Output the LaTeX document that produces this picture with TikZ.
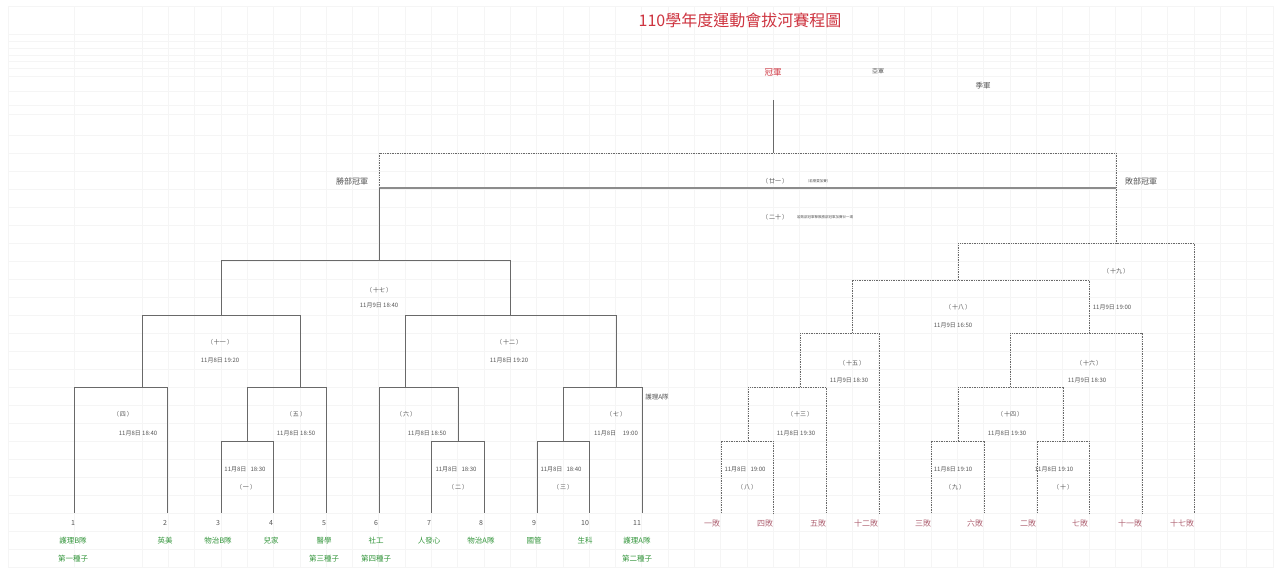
\documentclass[tikz,border=0pt]{standalone}
\usepackage{fontspec}
\setmainfont{Noto Sans CJK TC}
\usepackage{tikz}

\definecolor{titlered}{RGB}{206,52,64}
\definecolor{teamgreen}{RGB}{52,150,60}
\definecolor{losered}{RGB}{176,100,116}
\definecolor{linegray}{RGB}{105,105,105}
\definecolor{textgray}{RGB}{85,85,85}

\begin{document}
\begin{tikzpicture}[x=1pt,y=-1pt,
    gridline/.style={draw=black!4, line width=0.5pt},
    win/.style={draw=linegray, line width=0.8pt},
    lose/.style={draw=linegray, line width=0.8pt, dash pattern=on 1pt off 0.7pt},
    lab/.style={text=textgray, font=\fontsize{6}{7}\selectfont, inner sep=0pt},
    tiny/.style={text=textgray, font=\fontsize{3.5}{4}\selectfont, inner sep=0pt},
    num/.style={text=textgray, font=\fontsize{7}{8}\selectfont, inner sep=0pt},
    team/.style={text=teamgreen, font=\fontsize{7.5}{9}\selectfont, inner sep=0pt},
    lost/.style={text=losered, font=\fontsize{8}{9}\selectfont, inner sep=0pt}]
    \useasboundingbox (0,0) rectangle (1285,570);
    \fill[white] (0,0) rectangle (1285,570);
    % spreadsheet grid
    \foreach \gx in {8,74} \draw[gridline] (\gx,6) -- (\gx,568);
    \foreach \k in {0,...,43} \draw[gridline] ({142+26.3*\k},6) -- ({142+26.3*\k},568);
    \foreach \gy in {6,34,41,48,55,61,68,76,91,105,114,135} \draw[gridline] (8,\gy) -- (1273,\gy);
    \foreach \k in {0,...,23} \draw[gridline] (8,{153+18*\k}) -- (1273,{153+18*\k});

    % title and places
    \node[text=titlered, font=\fontsize{16}{18}\selectfont, inner sep=0pt] (title) at (740,20) {110學年度運動會拔河賽程圖};
    \node[text=titlered, font=\fontsize{8.5}{9}\selectfont, inner sep=0pt] (champ) at (773,72) {冠軍};
    \node[text=textgray, font=\fontsize{6}{7}\selectfont, inner sep=0pt] (second) at (878,71) {亞軍};
    \node[text=textgray, font=\fontsize{7.5}{8}\selectfont, inner sep=0pt] (third) at (983,86) {季軍};

    % final
    \draw[win] (773,100) -- (773,153);
    \draw[lose] (379,188) -- (379,153) -- (1116,153) -- (1116,243);
    \draw[draw=black!45, line width=1.3pt] (379,188) -- (1116,188);
    \node[text=textgray, font=\fontsize{8}{9}\selectfont, inner sep=0pt] (wchamp) at (352,181) {勝部冠軍};
    \node[text=textgray, font=\fontsize{8}{9}\selectfont, inner sep=0pt] (lchamp) at (1141,181) {敗部冠軍};
    \node[lab] (m21) at (775,181) {（\,廿一\,）};
    \node[tiny] (m21note) at (818,181) {（若需要加賽）};
    \node[lab] (m20) at (775,217) {（\,二十\,）};
    \node[tiny] (m20note) at (825,217) {若敗部冠軍擊敗勝部冠軍加賽廿一場};

    % winners bracket
    \draw[win] (379,188) -- (379,260);
    \draw[win] (221,315) -- (221,260) -- (510,260) -- (510,315);
    \draw[win] (142,387) -- (142,315) -- (300,315) -- (300,387);
    \draw[win] (405,387) -- (405,315) -- (616,315) -- (616,387);
    \draw[win] (74,513) -- (74,387) -- (167,387) -- (167,513);
    \draw[win] (247,441) -- (247,387) -- (326,387) -- (326,513);
    \draw[win] (221,513) -- (221,441) -- (273,441) -- (273,513);
    \draw[win] (379,513) -- (379,387) -- (458,387) -- (458,441);
    \draw[win] (431,513) -- (431,441) -- (484,441) -- (484,513);
    \draw[win] (563,441) -- (563,387) -- (642,387) -- (642,513);
    \draw[win] (537,513) -- (537,441) -- (589,441) -- (589,513);

    \node[lab] (m17) at (379,290) {（\,十七\,）};
    \node[lab] (d17) at (379,305) {11月9日 18:40};
    \node[lab] (m11) at (220,342) {（\,十一\,）};
    \node[lab] (d11) at (220,360) {11月8日 19:20};
    \node[lab] (m12) at (509,342) {（\,十二\,）};
    \node[lab] (d12) at (509,360) {11月8日 19:20};
    \node[lab] (m4) at (123,414) {（\,四\,）};
    \node[lab] (d4) at (138,433) {11月8日 18:40};
    \node[lab] (m5) at (296,414) {（\,五\,）};
    \node[lab] (d5) at (296,433) {11月8日 18:50};
    \node[lab] (m1) at (246,487) {（\,一\,）};
    \node[lab] (d1) at (245,469) {11月8日\ \ \ 18:30};
    \node[lab] (m6) at (406,414) {（\,六\,）};
    \node[lab] (d6) at (427,433) {11月8日 18:50};
    \node[lab] (m2) at (458,487) {（\,二\,）};
    \node[lab] (d2) at (456,469) {11月8日\ \ \ 18:30};
    \node[lab] (m7) at (616,414) {（\,七\,）};
    \node[lab] (d7) at (616,433) {11月8日\ \ \ \ \ 19:00};
    \node[lab] (m3) at (563,487) {（\,三\,）};
    \node[lab] (d3) at (561,469) {11月8日\ \ \ 18:40};
    \node[lab, font=\fontsize{6.5}{7}\selectfont] (aside) at (657,397) {護理A隊};

    % losers bracket
    \draw[lose] (958,280) -- (958,243) -- (1194,243) -- (1194,513);
    \draw[lose] (852,333) -- (852,280) -- (1089,280) -- (1089,333);
    \draw[lose] (800,387) -- (800,333) -- (879,333) -- (879,513);
    \draw[lose] (1010,387) -- (1010,333) -- (1142,333) -- (1142,513);
    \draw[lose] (748,441) -- (748,387) -- (826,387) -- (826,513);
    \draw[lose] (721,513) -- (721,441) -- (773,441) -- (773,513);
    \draw[lose] (958,441) -- (958,387) -- (1063,387) -- (1063,441);
    \draw[lose] (931,513) -- (931,441) -- (984,441) -- (984,513);
    \draw[lose] (1037,513) -- (1037,441) -- (1089,441) -- (1089,513);

    \node[lab] (m19) at (1116,271) {（\,十九\,）};
    \node[lab] (d19) at (1112,307) {11月9日 19:00};
    \node[lab] (m18) at (958,307) {（\,十八\,）};
    \node[lab] (d18) at (953,325) {11月9日 16:50};
    \node[lab] (m15) at (852,363) {（\,十五\,）};
    \node[lab] (d15) at (849,380) {11月9日 18:30};
    \node[lab] (m16) at (1089,363) {（\,十六\,）};
    \node[lab] (d16) at (1087,380) {11月9日 18:30};
    \node[lab] (m13) at (800,414) {（\,十三\,）};
    \node[lab] (d13) at (796,433) {11月8日 19:30};
    \node[lab] (m14) at (1010,414) {（\,十四\,）};
    \node[lab] (d14) at (1007,433) {11月8日 19:30};
    \node[lab] (m8) at (747,487) {（\,八\,）};
    \node[lab] (d8) at (745,469) {11月8日\ \ \ 19:00};
    \node[lab] (m9) at (955,487) {（\,九\,）};
    \node[lab] (d9) at (953,469) {11月8日 19:10};
    \node[lab] (m10) at (1063,487) {（\,十\,）};
    \node[lab] (d10) at (1054,469) {11月8日 19:10};

    % teams
    \foreach \x/\n/\t in {73/1/護理B隊, 165/2/英美, 218/3/物治B隊, 271/4/兒家,
        324/5/醫學, 376/6/社工, 429/7/人發心, 481/8/物治A隊, 534/9/國管,
        585/10/生科, 637/11/護理A隊} {
        \node[num] (n\n) at (\x,523) {\n};
        \node[team] (t\n) at (\x,541) {\t};
    }
    \node[team] (s1) at (73,559) {第一種子};
    \node[team] (s3) at (324,559) {第三種子};
    \node[team] (s4) at (376,559) {第四種子};
    \node[team] (s2) at (637,559) {第二種子};

    % losers entering
    \foreach \x/\t [count=\i] in {712/一敗, 765/四敗, 818/五敗, 866/十二敗, 923/三敗,
        975/六敗, 1028/二敗, 1080/七敗, 1130/十一敗, 1182/十七敗}
        \node[lost] (l\i) at (\x,523) {\t};
\end{tikzpicture}
\end{document}
